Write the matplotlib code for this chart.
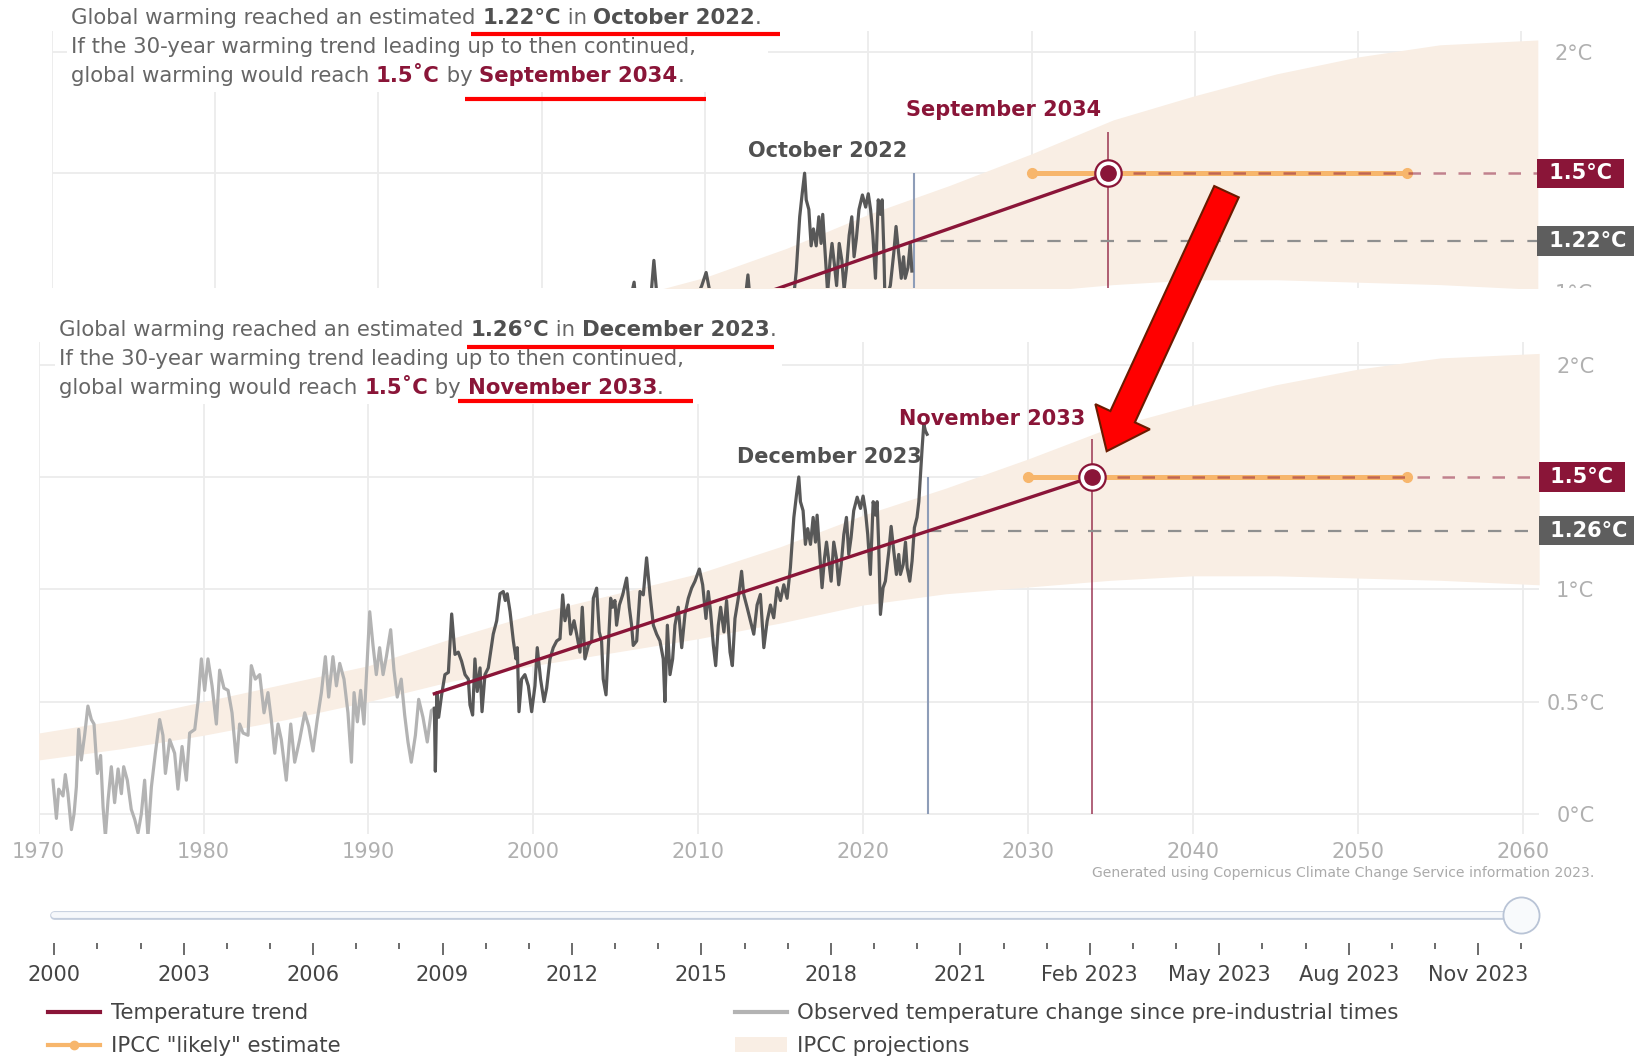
import numpy as np
import matplotlib
matplotlib.use("Agg")
import matplotlib.pyplot as plt
from matplotlib.font_manager import FontProperties
from matplotlib.lines import Line2D
from matplotlib.patches import FancyArrow, Patch, Rectangle
from matplotlib.transforms import Bbox

plt.rcParams["font.family"] = ["DejaVu Sans"]

W, H = 1634, 1058

RED = "#8a1538"
DARK = "#585858"
LIGHT = "#b3b3b3"
BAND = "#f9eee4"
ORANGE = "#f7b66c"
GRID = "#ececec"
TICK = "#b0b0b0"
VLINE = "#8e9db8"
TEXT = "#666666"
BOLD = "#505050"
SCRIBBLE = "#ff0000"

# monthly observed warming above pre-industrial (degC)
obs_years = [
    1970.87, 1971.08, 1971.22, 1971.48, 1971.62, 1971.78, 1971.99, 1972.15, 1972.29, 1972.43,
    1972.59, 1972.79, 1972.99, 1973.20, 1973.36, 1973.56, 1973.76, 1973.91, 1974.05, 1974.21,
    1974.41, 1974.61, 1974.82, 1975.02, 1975.16, 1975.38, 1975.62, 1975.83, 1976.03, 1976.23,
    1976.43, 1976.63, 1976.84, 1977.08, 1977.34, 1977.54, 1977.69, 1977.95, 1978.25, 1978.45,
    1978.70, 1978.96, 1979.16, 1979.47, 1979.67, 1979.87, 1980.07, 1980.27, 1980.52, 1980.78,
    1980.98, 1981.24, 1981.49, 1981.73, 1982.00, 1982.19, 1982.40, 1982.70, 1982.90, 1983.14,
    1983.41, 1983.67, 1983.91, 1984.11, 1984.32, 1984.52, 1984.72, 1985.02, 1985.29, 1985.53,
    1985.83, 1986.14, 1986.38, 1986.64, 1986.90, 1987.15, 1987.39, 1987.59, 1987.85, 1988.06,
    1988.26, 1988.52, 1988.76, 1988.97, 1989.13, 1989.33, 1989.53, 1989.73, 1989.87, 1990.08,
    1990.28, 1990.48, 1990.68, 1990.89, 1991.09, 1991.35, 1991.55, 1991.75, 1991.99, 1992.20,
    1992.40, 1992.60, 1992.85, 1993.05, 1993.31, 1993.57, 1993.82, 1994.00,
    1994.06, 1994.15, 1994.26, 1994.44, 1994.64, 1994.85, 1995.05, 1995.25, 1995.45, 1995.65,
    1995.86, 1996.06, 1996.16, 1996.32, 1996.46, 1996.60, 1996.77, 1996.89, 1997.07, 1997.27,
    1997.41, 1997.57, 1997.78, 1997.98, 1998.18, 1998.30, 1998.42, 1998.59, 1998.79, 1998.95,
    1999.03, 1999.13, 1999.29, 1999.49, 1999.70, 1999.90, 2000.10, 2000.24, 2000.44, 2000.65,
    2000.81, 2001.01, 2001.21, 2001.42, 2001.62, 2001.78, 2001.92, 2002.12, 2002.26, 2002.47,
    2002.63, 2002.83, 2002.97, 2003.13, 2003.34, 2003.54, 2003.64, 2003.84, 2004.00, 2004.14,
    2004.24, 2004.41, 2004.55, 2004.69, 2004.81, 2004.95, 2005.05, 2005.22, 2005.42, 2005.66,
    2005.82, 2005.96, 2006.06, 2006.27, 2006.47, 2006.67, 2006.87, 2007.08, 2007.28, 2007.48,
    2007.68, 2007.88, 2007.98, 2008.13, 2008.29, 2008.45, 2008.59, 2008.79, 2009.00, 2009.20,
    2009.40, 2009.60, 2009.80, 2010.07, 2010.27, 2010.47, 2010.61, 2010.75, 2010.92, 2011.06,
    2011.22, 2011.36, 2011.56, 2011.72, 2011.93, 2012.07, 2012.23, 2012.43, 2012.63, 2012.76,
    2012.97, 2013.17, 2013.37, 2013.57, 2013.77, 2013.98, 2014.18, 2014.38, 2014.58, 2014.78,
    2014.99, 2015.19, 2015.39, 2015.59, 2015.80, 2015.96, 2016.10, 2016.20, 2016.36, 2016.50,
    2016.64, 2016.81, 2016.97, 2017.11, 2017.21, 2017.37, 2017.51, 2017.66, 2017.78, 2017.92,
    2018.06, 2018.22, 2018.38, 2018.52, 2018.67, 2018.83, 2018.99, 2019.13, 2019.27, 2019.43,
    2019.64, 2019.84, 2020.00, 2020.14, 2020.28, 2020.44, 2020.61, 2020.75, 2020.85, 2020.95,
    2021.05, 2021.21, 2021.35, 2021.56, 2021.70, 2021.86, 2022.02, 2022.16, 2022.26, 2022.43,
    2022.57, 2022.67, 2022.83, 2022.97, 2023.11, 2023.27, 2023.38, 2023.48, 2023.58, 2023.68,
    2023.78, 2023.88,
]
obs_temps = [
    0.15, -0.02, 0.11, 0.08, 0.175, 0.09, -0.07, 0.0, 0.12, 0.376,
    0.24, 0.35, 0.48, 0.42, 0.40, 0.18, 0.26, 0.03, -0.1, 0.06,
    0.21, 0.05, 0.2, 0.09, 0.21, 0.15, 0.02, -0.025, -0.085, 0.0,
    0.15, -0.1, 0.12, 0.27, 0.42, 0.35, 0.18, 0.33, 0.27, 0.11,
    0.30, 0.15, 0.36, 0.376, 0.5, 0.69, 0.55, 0.69, 0.57, 0.40,
    0.64, 0.56, 0.55, 0.45, 0.23, 0.40, 0.36, 0.35, 0.66, 0.60,
    0.62, 0.45, 0.54, 0.42, 0.27, 0.40, 0.33, 0.15, 0.40, 0.23,
    0.33, 0.45, 0.39, 0.28, 0.42, 0.54, 0.70, 0.52, 0.70, 0.57,
    0.67, 0.60, 0.45, 0.23, 0.54, 0.41, 0.55, 0.40, 0.60, 0.90,
    0.75, 0.62, 0.74, 0.62, 0.70, 0.82, 0.64, 0.52, 0.60, 0.44,
    0.32, 0.23, 0.35, 0.51, 0.43, 0.32, 0.46, 0.47,
    0.19, 0.54, 0.43, 0.53, 0.62, 0.63, 0.89, 0.71, 0.72, 0.68,
    0.62, 0.60, 0.485, 0.44, 0.69, 0.545, 0.65, 0.455, 0.62, 0.65,
    0.72, 0.80, 0.86, 0.98, 0.99, 0.95, 0.98, 0.90, 0.77, 0.69,
    0.74, 0.455, 0.60, 0.62, 0.57, 0.455, 0.57, 0.74, 0.60, 0.50,
    0.56, 0.69, 0.74, 0.77, 0.78, 0.975, 0.86, 0.93, 0.80, 0.86,
    0.80, 0.72, 0.92, 0.69, 0.75, 0.77, 0.96, 1.005, 0.81, 0.77,
    0.60, 0.53, 0.75, 0.96, 0.92, 0.95, 0.84, 0.93, 0.975, 1.05,
    0.92, 0.84, 0.75, 0.77, 0.99, 0.975, 1.14, 0.975, 0.84, 0.80,
    0.77, 0.69, 0.50, 0.84, 0.62, 0.69, 0.84, 0.92, 0.74, 0.89,
    0.96, 1.005, 1.035, 1.09, 1.02, 0.87, 0.99, 0.90, 0.75, 0.66,
    0.84, 0.92, 0.81, 0.95, 0.72, 0.66, 0.87, 0.96, 1.08, 0.977,
    0.918, 0.858, 0.80, 0.93, 0.977, 0.74, 0.858, 0.93, 0.873, 1.007,
    0.95, 1.02, 0.96, 1.096, 1.32, 1.42, 1.50, 1.39, 1.35, 1.20,
    1.27, 1.20, 1.32, 1.21, 1.33, 1.155, 1.007, 1.14, 1.21, 1.126,
    1.036, 1.21, 1.14, 1.02, 1.11, 1.244, 1.32, 1.155, 1.23, 1.35,
    1.41, 1.36, 1.415, 1.35, 1.244, 1.066, 1.39, 1.33, 1.39, 1.185,
    0.888, 1.007, 1.036, 1.17, 1.28, 1.17, 1.066, 1.155, 1.066, 1.11,
    1.21, 1.096, 1.036, 1.126, 1.274, 1.32, 1.39, 1.51, 1.63, 1.735,
    1.705, 1.69,
]

# IPCC projection envelope
band_years = [1970, 1975, 1980, 1985, 1990, 1995, 2000, 2005, 2010, 2015,
              2020, 2025, 2030, 2035, 2040, 2045, 2050, 2055, 2061]
band_low = [0.24, 0.29, 0.35, 0.42, 0.50, 0.59, 0.66, 0.72, 0.78, 0.85,
            0.93, 0.98, 1.01, 1.04, 1.06, 1.06, 1.05, 1.04, 1.02]
band_high = [0.36, 0.42, 0.50, 0.58, 0.66, 0.78, 0.89, 0.98, 1.07, 1.19,
             1.33, 1.45, 1.58, 1.72, 1.82, 1.91, 1.98, 2.03, 2.05]

likely_years = [2030.0, 2053.0]
target = 1.5

# snapshot from October 2022 (cropped panel on top)
oct22_year, oct22_temp = 2022.79, 1.22
oct22_cross = 2034.71
oct22_trend_years = [1992.87, 2034.71]
oct22_trend_temps = [0.517, 1.5]

# snapshot from December 2023 (full panel)
dec23_year, dec23_temp = 2023.96, 1.26
dec23_cross = 2033.88
dec23_trend_years = [1994.0, 2033.88]
dec23_trend_temps = [0.535, 1.5]

slider_labels = ["2000", "", "", "2003", "", "", "2006", "", "", "2009", "", "",
                 "2012", "", "", "2015", "", "", "2018", "", "", "2021", "", "",
                 "Feb 2023", "", "", "May 2023", "", "", "Aug 2023", "", "", "Nov 2023", ""]

fig = plt.figure(figsize=(W / 100, H / 100), dpi=100)
renderer = fig.canvas.get_renderer()


def px_axes(left, top, right, bottom, **kw):
    return fig.add_axes([left / W, 1 - bottom / H, (right - left) / W, (bottom - top) / H], **kw)


def draw_panel(ax, ylim, yticks, ylabels, year, temp, name, cross, cross_name, trend_years, trend_temps):
    ax.set_xlim(1970, 2061)
    ax.set_ylim(*ylim)
    xend = ax.get_xlim()[1]
    for s in ax.spines.values():
        s.set_visible(False)
    ax.set_xticks(range(1970, 2061, 10))
    ax.set_yticks(yticks, ylabels)
    ax.grid(True, color=GRID, lw=1.3)
    ax.set_axisbelow(True)
    ax.tick_params(axis="x", length=0, pad=6, labelsize=15, labelcolor=TICK)
    ax.tick_params(axis="y", length=0, pad=26, labelsize=15, labelcolor=TICK,
                   labelleft=False, labelright=True)
    for lbl in ax.get_yticklabels():
        lbl.set_horizontalalignment("center")

    ax.fill_between(band_years, band_low, band_high, color=BAND, lw=0, zorder=1)

    yrs = np.array(obs_years)
    tmp = np.array(obs_temps)
    i0 = np.searchsorted(yrs, trend_years[0], side="right") - 1
    i1 = np.searchsorted(yrs, year, side="right")
    ax.plot(yrs[:i0 + 1], tmp[:i0 + 1], color=LIGHT, lw=2.3, zorder=3)
    ax.plot(yrs[i0:i1], tmp[i0:i1], color=DARK, lw=2.3, zorder=3)
    ax.plot(trend_years, trend_temps, color=RED, lw=2.4, zorder=4)

    ax.vlines(year, 0, target, color=VLINE, lw=1.5, zorder=2)
    ax.vlines(cross, 0, 1.67, color=RED, lw=1.1, alpha=0.85, zorder=2)
    ax.plot([year, xend], [temp, temp], color="#8f8f8f", lw=1.6, dashes=(6, 6), zorder=2)
    ax.plot(likely_years, [target, target], color=ORANGE, lw=3.6, marker="o", ms=7, zorder=5)
    ax.plot([cross, xend], [target, target], color=RED, alpha=0.5, lw=1.8, dashes=(5, 5), zorder=6)
    ax.plot(cross, target, "o", ms=19, mfc="white", mec=RED, mew=1.6, zorder=7)
    ax.plot(cross, target, "o", ms=11, mfc=RED, mec=RED, zorder=8)

    ax.annotate(name, (year, 1.59), xytext=(-5, 0), textcoords="offset points", ha="right",
                va="center", fontsize=15, fontweight="bold", color=BOLD, zorder=9)
    ax.annotate(cross_name, (cross, 1.76), xytext=(-5, 0), textcoords="offset points", ha="right",
                va="center", fontsize=15, fontweight="bold", color=RED, zorder=9)
    for val, fc in ((target, RED), (temp, "#5e5e5e")):
        ax.annotate(f" {val:g}°C ", (1, val), xycoords=("axes fraction", "data"), xytext=(3, 0),
                    textcoords="offset points", ha="left", va="center", fontsize=15,
                    fontweight="bold", color="white", annotation_clip=False,
                    bbox=dict(boxstyle="square,pad=0.22", fc=fc, ec="none"))


# cropped earlier snapshot
ax_top = px_axes(51.8, 31, 1537.8, 288)
draw_panel(ax_top, (1.026, 2.087), [1.5, 2.0], ["", "2°C"], oct22_year, oct22_temp,
           "October 2022", oct22_cross, "September 2034", oct22_trend_years, oct22_trend_temps)
ax_top.tick_params(axis="x", labelbottom=False)
cut = ax_top.annotate("1°C", (1, 1.0), xycoords=("axes fraction", "data"), xytext=(26, 0),
                      textcoords="offset points", ha="center", va="center", fontsize=15,
                      color=TICK, annotation_clip=False)
cut.set_clip_box(Bbox.from_extents(0, H - 288, W, H))

# current snapshot
ax_bot = px_axes(38.6, 342.2, 1539.2, 834.1)
draw_panel(ax_bot, (-0.09, 2.1), [0, 0.5, 1, 1.5, 2], ["0°C", "0.5°C", "1°C", "", "2°C"],
           dec23_year, dec23_temp, "December 2023", dec23_cross, "November 2033",
           dec23_trend_years, dec23_trend_temps)

# slider under the chart
n = len(slider_labels)
step = 43.15
ax_sl = px_axes(0, 895, W, 943)
ax_sl.set_xlim(-54.2 / step, (W - 54.2) / step)
ax_sl.set_ylim(0, 1)
ax_sl.patch.set_visible(False)
for s in ax_sl.spines.values():
    s.set_visible(False)
major = [i for i, lab in enumerate(slider_labels) if lab]
minor = [i for i, lab in enumerate(slider_labels) if not lab]
ax_sl.set_xticks(major, [slider_labels[i] for i in major])
ax_sl.set_xticks(minor, minor=True)
ax_sl.set_yticks([])
ax_sl.tick_params(axis="x", which="major", length=8.6, width=1.1, color="#444444", pad=7,
                  labelsize=15, labelcolor="#444444")
ax_sl.tick_params(axis="x", which="minor", length=4.5, width=1.1, color="#444444")
ax_sl.plot([0, n - 1], [0.58, 0.58], color="#c3cddd", lw=6.3, solid_capstyle="round")
ax_sl.plot([0, n - 1], [0.58, 0.58], color="#f6f8fb", lw=4.2, solid_capstyle="round")
ax_sl.plot(n - 1, 0.58, "o", ms=26, mfc="#f8fafc", mec="#b9c4d6", mew=1.3, clip_on=False)

# legends
legend_kw = dict(loc="upper left", frameon=False, fontsize=15.3, handlelength=2.45,
                 handletextpad=0.5, labelspacing=0.62, borderpad=0, borderaxespad=0,
                 labelcolor="#444444")
fig.legend(handles=[Line2D([], [], color=RED, lw=3),
                    Line2D([], [], color=ORANGE, lw=3, marker="o", ms=6)],
           labels=["Temperature trend", 'IPCC "likely" estimate'],
           bbox_to_anchor=(48 / W, 1 - 1003 / H), **legend_kw)
fig.legend(handles=[Line2D([], [], color=LIGHT, lw=3), Patch(fc=BAND, ec="none")],
           labels=["Observed temperature change since pre-industrial times", "IPCC projections"],
           bbox_to_anchor=(734.6 / W, 1 - 1003 / H), **legend_kw)

# overlay in image pixels: text blocks, hand-drawn marks
ax_ov = fig.add_axes([0, 0, 1, 1], zorder=10)
ax_ov.set_xlim(0, W)
ax_ov.set_ylim(H, 0)
ax_ov.axis("off")

BODY = 15.3


def text_width(s, size, weight):
    prop = FontProperties(family="DejaVu Sans", size=size, weight=weight)
    w1 = renderer.get_text_width_height_descent("|" + s + "|", prop, ismath=False)[0]
    w0 = renderer.get_text_width_height_descent("||", prop, ismath=False)[0]
    return w1 - w0


def rich_line(x, y, parts, size=BODY):
    spans = []
    for s, color, weight in parts:
        ax_ov.text(x, y, s, fontsize=size, color=color, fontweight=weight,
                   va="baseline", ha="left", zorder=3)
        w = text_width(s, size, weight)
        spans.append((x, x + w))
        x += w
    return spans


def text_block(x, y, temp, name, cross_name, marks):
    lines = [
        [("Global warming reached an estimated ", TEXT, "normal"), (f"{temp:.2f}°C", BOLD, "bold"),
         (" in ", TEXT, "normal"), (name, BOLD, "bold"), (".", TEXT, "normal")],
        [("If the 30-year warming trend leading up to then continued,", TEXT, "normal")],
        [("global warming would reach ", TEXT, "normal"), ("1.5˚C", RED, "bold"),
         (" by ", TEXT, "normal"), (cross_name, RED, "bold"), (".", TEXT, "normal")],
    ]
    spans = [rich_line(x, y + 6.5 + 28.8 * i, parts) for i, parts in enumerate(lines)]
    right = spans[0][-1][1]
    ax_ov.add_patch(Rectangle((x - 4, y - 30), right - x + 10, 104, fc="white", ec="none", zorder=1))
    # red underlines scribbled over the screenshot
    for (row, piece), (dy, pre, post) in zip(((0, 1), (2, 3)), marks):
        x0 = spans[row][piece][0] - pre
        x1 = spans[row][-1][1] + post
        yy = y + 28.8 * row + dy
        ax_ov.plot([x0, x1], [yy, yy], color=SCRIBBLE, lw=3, solid_capstyle="butt", zorder=4)


text_block(71, 17.7, oct22_temp, "October 2022", "September 2034", ((16.7, 11, 18), (24, 14, 22)))
text_block(59.4, 330, dec23_temp, "December 2023", "November 2033", ((17, 4, -2), (13.4, 10, 29)))

ax_ov.text(1594, 873, "Generated using Copernicus Climate Change Service information 2023.",
           fontsize=10.1, color="#aaaaaa", ha="right", va="center")

ax_ov.add_patch(FancyArrow(1226.5, 191.7, 1106.7 - 1226.5, 451.2 - 191.7, width=27,
                           head_width=60, head_length=38, length_includes_head=True,
                           fc=SCRIBBLE, ec="#6b1a00", lw=1.5, zorder=5))

fig.savefig("out.png", dpi=100)
